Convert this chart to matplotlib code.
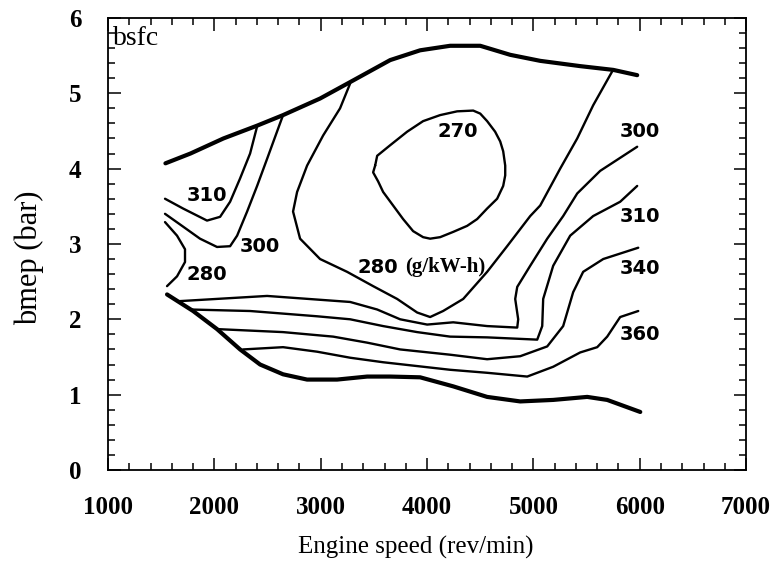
import matplotlib.pyplot as plt
from matplotlib.ticker import MultipleLocator

# operating envelope: full-load (upper) and low-load (lower) limits
upper_rpm = [1540, 1775, 2085, 2402, 2646, 2994, 3305, 3653, 3935, 4217, 4500, 4782, 5064, 5440, 5751, 5976]
upper_bmep = [4.07, 4.20, 4.40, 4.57, 4.71, 4.93, 5.17, 5.44, 5.57, 5.63, 5.63, 5.51, 5.43, 5.36, 5.31, 5.24]

lower_rpm = [1555, 1800, 2025, 2242, 2430, 2646, 2872, 3154, 3437, 3653, 3935, 4246, 4565, 4876, 5186, 5506, 5694, 6005]
lower_bmep = [2.33, 2.11, 1.87, 1.60, 1.40, 1.27, 1.20, 1.20, 1.24, 1.24, 1.23, 1.11, 0.97, 0.91, 0.93, 0.97, 0.93, 0.77]

# bsfc contours (g/kW-h)
c270_rpm = [3512, 3531, 3653, 3813, 3963, 4123, 4283, 4434, 4500, 4565, 4640, 4688, 4716, 4735, 4735, 4716,
            4659, 4565, 4471, 4377, 4246, 4123, 4029, 3963, 3869, 3775, 3681, 3587, 3540, 3493, 3512]
c270_bmep = [4.04, 4.17, 4.31, 4.49, 4.63, 4.71, 4.76, 4.77, 4.73, 4.63, 4.49, 4.36, 4.23, 4.04, 3.91, 3.77,
             3.60, 3.47, 3.33, 3.24, 3.16, 3.09, 3.07, 3.09, 3.17, 3.33, 3.51, 3.69, 3.83, 3.95, 4.04]

c280_rpm = [3277, 3182, 3023, 2872, 2778, 2740, 2806, 2994, 3248, 3493, 3719, 3907, 4029, 4151, 4340,
            4565, 4753, 4970, 5064, 5252, 5412, 5562, 5741]
c280_bmep = [5.13, 4.80, 4.44, 4.04, 3.69, 3.43, 3.07, 2.80, 2.63, 2.44, 2.27, 2.09, 2.03, 2.11, 2.27,
             2.63, 2.97, 3.37, 3.51, 4.00, 4.40, 4.84, 5.29]

c280_low_rpm = [1536, 1649, 1724, 1724, 1649, 1555]
c280_low_bmep = [3.29, 3.11, 2.93, 2.76, 2.57, 2.44]

c300_low_rpm = [1536, 1706, 1865, 2025, 2148, 2214, 2308, 2402, 2496, 2646]
c300_low_bmep = [3.40, 3.23, 3.07, 2.96, 2.97, 3.11, 3.43, 3.77, 4.13, 4.71]

c310_low_rpm = [1536, 1706, 1931, 2054, 2148, 2242, 2336, 2402]
c310_low_bmep = [3.60, 3.47, 3.31, 3.36, 3.56, 3.87, 4.20, 4.56]

c300_rpm = [1659, 2496, 3277, 3531, 3747, 4001, 4246, 4565, 4848, 4857, 4829, 4848, 4970, 5130, 5280, 5412, 5628, 5976]
c300_bmep = [2.24, 2.31, 2.23, 2.13, 2.00, 1.93, 1.96, 1.91, 1.89, 2.00, 2.27, 2.43, 2.71, 3.07, 3.37, 3.67, 3.97, 4.29]

c310_rpm = [1771, 2336, 2966, 3277, 3587, 3907, 4217, 4565, 5036, 5083, 5092, 5186, 5346, 5562, 5816, 5976]
c310_bmep = [2.13, 2.11, 2.04, 2.00, 1.91, 1.83, 1.77, 1.76, 1.73, 1.91, 2.27, 2.71, 3.11, 3.37, 3.56, 3.77]

c340_rpm = [2025, 2646, 3117, 3437, 3747, 4217, 4565, 4876, 5130, 5280, 5374, 5468, 5657, 5986]
c340_bmep = [1.87, 1.83, 1.77, 1.69, 1.60, 1.53, 1.47, 1.51, 1.64, 1.91, 2.36, 2.63, 2.80, 2.95]

c360_rpm = [2270, 2646, 2966, 3277, 3587, 4217, 4565, 4942, 5186, 5440, 5600, 5694, 5816, 5986]
c360_bmep = [1.60, 1.63, 1.57, 1.49, 1.43, 1.33, 1.29, 1.24, 1.37, 1.56, 1.63, 1.77, 2.03, 2.11]

# contour labels: text, rpm, bmep
labels = [("310", 1931, 3.64), ("300", 2430, 2.96), ("280", 1931, 2.59),
          ("270", 4293, 4.49), ("300", 6005, 4.49), ("310", 6005, 3.37),
          ("340", 6005, 2.67), ("360", 6005, 1.80)]

fig = plt.figure(figsize=(7.81, 5.63), dpi=100)
ax = fig.add_axes([0.1383, 0.1652, 0.817, 0.803])

thin = dict(color='black', lw=1.7, solid_joinstyle='round', solid_capstyle='round')
thick = dict(color='black', lw=3.0, solid_joinstyle='round', solid_capstyle='round')

ax.plot(upper_rpm, upper_bmep, **thick)
ax.plot(lower_rpm, lower_bmep, **thick)
for xs, ys in [(c270_rpm, c270_bmep), (c280_rpm, c280_bmep), (c280_low_rpm, c280_low_bmep),
               (c300_low_rpm, c300_low_bmep), (c310_low_rpm, c310_low_bmep),
               (c300_rpm, c300_bmep), (c310_rpm, c310_bmep), (c340_rpm, c340_bmep),
               (c360_rpm, c360_bmep)]:
    ax.plot(xs, ys, **thin)

for txt, x, y in labels:
    ax.text(x, y, txt, ha='center', va='center', fontsize=14, fontweight='bold',
            family='DejaVu Sans')
ax.text(3342, 2.69, "280", ha='left', va='center', fontsize=14, fontweight='bold',
        family='DejaVu Sans')
ax.text(4547, 2.69, "(g/kW-h)", ha='right', va='center', fontsize=15, fontweight='bold',
        family='Liberation Serif')
ax.text(1047, 5.73, "bsfc", ha='left', va='center', fontsize=20, family='Liberation Serif')

ax.set_xlim(1000, 7000)
ax.set_ylim(0, 6)
ax.xaxis.set_major_locator(MultipleLocator(1000))
ax.xaxis.set_minor_locator(MultipleLocator(200))
ax.yaxis.set_major_locator(MultipleLocator(1))
ax.yaxis.set_minor_locator(MultipleLocator(0.2))
ax.tick_params(which='both', direction='in', top=True, right=True, width=1.1)
ax.tick_params(which='major', length=9, labelsize=18, pad=19)
ax.tick_params(which='minor', length=5)
for lab in ax.get_xticklabels() + ax.get_yticklabels():
    lab.set_family('Liberation Serif')
    lab.set_fontweight('bold')
for sp in ax.spines.values():
    sp.set_linewidth(1.3)

ax.set_xlabel("Engine speed (rev/min)", fontsize=18, family='Liberation Serif')
ax.set_ylabel("bmep (bar)", fontsize=22, family='Liberation Serif')
ax.xaxis.set_label_coords(0.483, -0.145)
ax.yaxis.set_label_coords(-0.1, 0.469)

fig.savefig("out.png", dpi=100)
